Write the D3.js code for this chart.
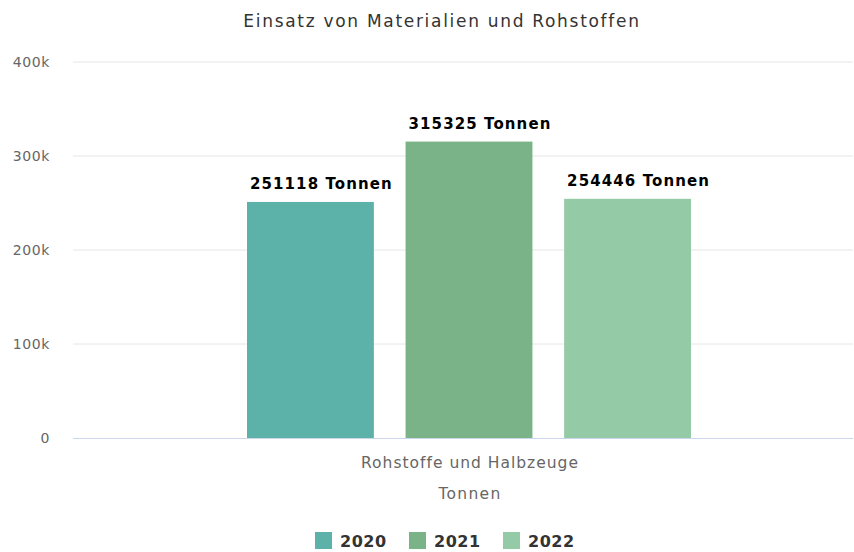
<!DOCTYPE html>
<html>
<head>
<meta charset="utf-8">
<script src="https://cdn.jsdelivr.net/npm/d3@7"></script>
<style>
  body { margin: 0; background: #fff; }
  svg { display: block; font-family: "DejaVu Sans", sans-serif; }
</style>
</head>
<body>
<div id="chart"></div>
<script>
const categories = ["Rohstoffe und Halbzeuge"];
const years = ["2020", "2021", "2022"];
const values = [251118, 315325, 254446];
const colors = ["#5cb2a9", "#7ab387", "#94cba6"];
const yTicks = [0, 100000, 200000, 300000, 400000];

const width = 854, height = 552;
const margin = { top: 62, right: 1, bottom: 114, left: 73 };
const innerWidth = width - margin.left - margin.right;
const innerHeight = height - margin.top - margin.bottom;

const svg = d3.select("#chart").append("svg")
  .attr("width", width)
  .attr("height", height);

//title
svg.append("text")
  .attr("x", 442)
  .attr("y", 27)
  .attr("text-anchor", "middle")
  .attr("fill", "#333")
  .style("font-size", "17px")
  .style("letter-spacing", "1.7px")
  .text("Einsatz von Materialien und Rohstoffen");

const g = svg.append("g").attr("transform", `translate(${margin.left},${margin.top})`);

//scale
const x0 = d3.scaleBand().domain(categories).range([0, innerWidth]);
const x1 = d3.scaleBand().domain(years).range([174, 618]).paddingInner(0.2).paddingOuter(0);
const y = d3.scaleLinear().domain([0, 400000]).range([innerHeight, 0]);

//grid
g.append("g")
  .selectAll("line")
  .data(yTicks.slice(1))
  .join("line")
  .attr("x1", 0)
  .attr("x2", innerWidth)
  .attr("y1", (d) => y(d))
  .attr("y2", (d) => y(d))
  .attr("stroke", "#e6e6e6");

//y-axis labels
g.append("g")
  .call(d3.axisLeft(y).tickValues(yTicks).tickSize(0).tickPadding(23)
    .tickFormat((d) => (d === 0 ? "0" : d / 1000 + "k")))
  .call((a) => a.select(".domain").remove())
  .call((a) => a.selectAll("text")
    .attr("fill", "#666")
    .style("font-size", "14px")
    .style("letter-spacing", "0.6px")
    .style("font-family", "DejaVu Sans, sans-serif"));

//bars
const bars = g.append("g").selectAll("g")
  .data(categories)
  .join("g")
  .attr("transform", (c) => `translate(${x0(c)},0)`);

bars.selectAll("rect")
  .data(years.map((yr, i) => ({ yr, v: values[i], c: colors[i] })))
  .join("rect")
  .attr("x", (d) => x1(d.yr))
  .attr("width", x1.bandwidth())
  .attr("y", (d) => y(d.v))
  .attr("height", (d) => innerHeight - y(d.v))
  .attr("fill", (d) => d.c);

bars.selectAll("text")
  .data(years.map((yr, i) => ({ yr, v: values[i] })))
  .join("text")
  .attr("x", (d) => x1(d.yr) + x1.bandwidth() / 2 + 11)
  .attr("y", (d) => y(d.v) - 13)
  .attr("text-anchor", "middle")
  .attr("fill", "#000")
  .style("font-size", "15px")
  .style("font-weight", "bold")
  .style("letter-spacing", "1.1px")
  .text((d) => d.v + " Tonnen");

//x-axis
g.append("line")
  .attr("x1", 0)
  .attr("x2", innerWidth)
  .attr("y1", innerHeight + 0.5)
  .attr("y2", innerHeight + 0.5)
  .attr("stroke", "#ccd6eb");

const midX = x1(years[0]) + (x1(years[2]) + x1.bandwidth() - x1(years[0])) / 2;

g.append("g")
  .selectAll("text")
  .data(categories)
  .join("text")
  .attr("x", midX + 1)
  .attr("y", innerHeight + 30)
  .attr("text-anchor", "middle")
  .attr("fill", "#666")
  .style("font-size", "15.5px")
  .style("letter-spacing", "1px")
  .text((c) => c);

g.append("text")
  .attr("x", midX + 1)
  .attr("y", innerHeight + 61)
  .attr("text-anchor", "middle")
  .attr("fill", "#666")
  .style("font-size", "15.5px")
  .style("letter-spacing", "1.3px")
  .text("Tonnen");

//legend
const legendX = [315, 409, 503];
const legend = svg.append("g").selectAll("g")
  .data(years)
  .join("g")
  .attr("transform", (d, i) => `translate(${legendX[i]},532)`);

legend.append("rect")
  .attr("width", 17)
  .attr("height", 17)
  .attr("fill", (d, i) => colors[i]);

legend.append("text")
  .attr("x", 25)
  .attr("y", 15)
  .attr("fill", "#333")
  .style("font-size", "16px")
  .style("font-weight", "bold")
  .style("letter-spacing", "0.5px")
  .text((d) => d);
</script>
</body>
</html>
